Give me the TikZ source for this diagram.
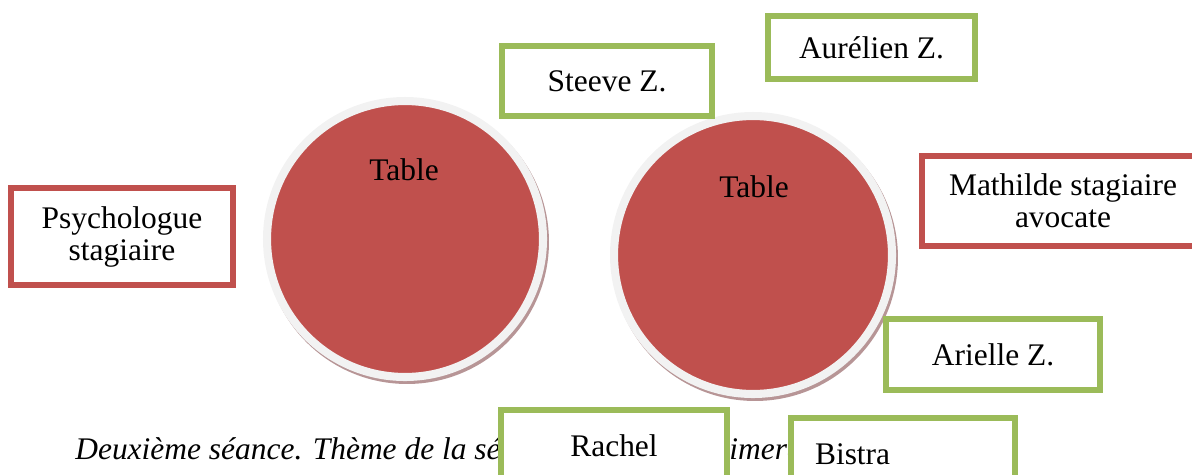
\documentclass[tikz,border=0pt]{standalone}
\usepackage{fontspec}
\setmainfont{Liberation Serif}

\definecolor{tablered}{HTML}{C0504D}
\definecolor{seatgreen}{HTML}{9BBB59}
\definecolor{rimgray}{HTML}{F2F2F2}
\definecolor{shadowred}{HTML}{B79596}

\tikzset{
  seat/.style={draw=seatgreen, line width=3.6pt, fill=white, inner sep=0pt, align=center,
    font=\fontsize{17.9}{18.2}\selectfont},
  intern/.style={seat, draw=tablered},
  tabletop/.style={circle, fill=tablered, draw=rimgray, line width=4.6pt, inner sep=0pt},
  tableshadow/.style={circle, fill=shadowred, inner sep=0pt},
  tablename/.style={inner sep=0pt, anchor=base, font=\fontsize{17.9}{18.2}\selectfont},
  caption/.style={inner sep=0pt, anchor=base west, font=\fontsize{17.9}{18.2}\selectfont\itshape},
}

\begin{document}
\begin{tikzpicture}[x=0.02cm, y=-0.02cm]
        \useasboundingbox (0,0) rectangle (1192,474);
        \clip (0,0) rectangle (1192,474);

        % the two tables
        \node[tableshadow, minimum size=5.68cm] (shadowA) at (407,242) {};
        \node[tabletop, minimum size=5.52cm] (tableA) at (405,239) {};
        \node[tableshadow, minimum size=5.72cm] (shadowB) at (755,258) {};
        \node[tabletop, minimum size=5.56cm] (tableB) at (753,255) {};

        \node[tablename] (nameA) at (404,180) {Table};
        \node[tablename] (nameB) at (754,197) {Table};

        % caption line (partly hidden by the boxes)
        \node[caption] (theme) at (75,459) {Deuxième séance. Thème de la sé};
        \node[caption] (themeend) at (729,459) {imera};

        % interns
        \node[intern, minimum width=4.43cm, minimum height=1.93cm] (psycho) at (122,236.5) {Psychologue\\stagiaire};
        \node[intern, minimum width=5.63cm, minimum height=1.79cm] (mathilde) at (1063,201) {Mathilde stagiaire\\avocate};

        % participants
        \node[seat, minimum width=4.19cm, minimum height=1.39cm] (steeve) at (607,81) {Steeve Z.};
        \node[seat, minimum width=4.13cm, minimum height=1.25cm] (aurelien) at (871.5,47.5) {Aurélien Z.};
        \node[seat, minimum width=4.27cm, minimum height=1.41cm] (arielle) at (993,354.5) {Arielle Z.};
        \node[seat, minimum width=4.51cm, minimum height=1.43cm] (rachel) at (614,446) {Rachel};
        \node[seat, minimum height=1.43cm, text width=3.52cm, inner xsep=0.476cm, align=left] (bistra) at (903,454) {Bistra};
\end{tikzpicture}
\end{document}
